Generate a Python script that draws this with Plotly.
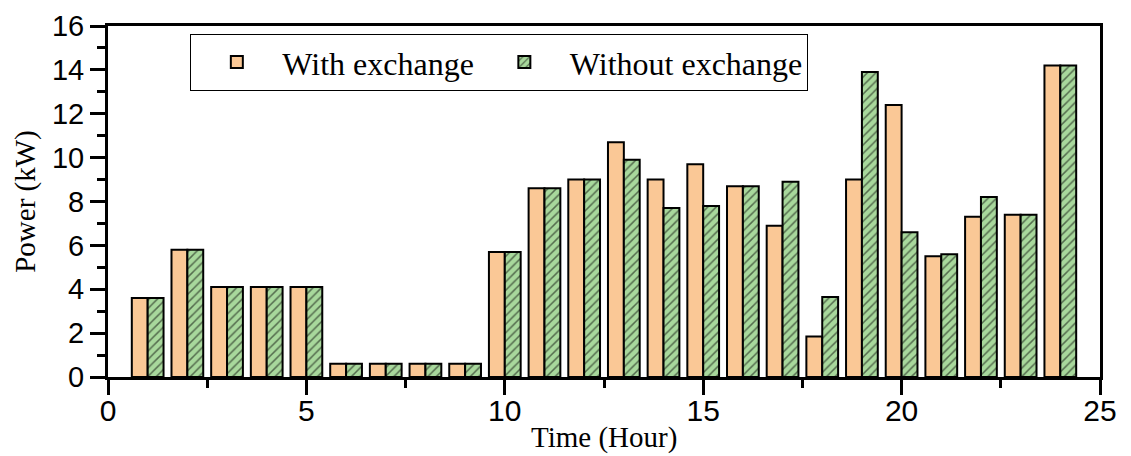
import plotly.graph_objects as go

hours = list(range(1, 25))
with_exchange = [3.6, 5.8, 4.1, 4.1, 4.1, 0.6, 0.6, 0.6, 0.6, 5.7, 8.6, 9.0,
                 10.7, 9.0, 9.7, 8.7, 6.9, 1.85, 9.0, 12.4, 5.5, 7.3, 7.4, 14.2]
without_exchange = [3.6, 5.8, 4.1, 4.1, 4.1, 0.6, 0.6, 0.6, 0.6, 5.7, 8.6, 9.0,
                    9.9, 7.7, 7.8, 8.7, 8.9, 3.65, 13.9, 6.6, 5.6, 8.2, 7.4, 14.2]
x_ticks = [0, 5, 10, 15, 20, 25]
y_ticks = [0, 2, 4, 6, 8, 10, 12, 14, 16]

fig = go.Figure()
fig.add_trace(go.Bar(
    x=hours, y=with_exchange, name="With exchange",
    marker=dict(color="#FAC896", line=dict(color="black", width=2)),
))
fig.add_trace(go.Bar(
    x=hours, y=without_exchange, name="Without exchange",
    marker=dict(color="#A8D89C", line=dict(color="black", width=2),
                pattern=dict(shape="/", fgcolor="black", bgcolor="#A8D89C",
                             size=6, solidity=0.25, fillmode="overlay")),
))

fig.update_layout(
    width=1123, height=448,
    margin=dict(l=100, r=31, t=18, b=79, autoexpand=False),
    plot_bgcolor="white", paper_bgcolor="white",
    barmode="group", bargap=0.2, bargroupgap=0,
    showlegend=True,
    legend=dict(
        orientation="h", x=0.083, y=0.978, xanchor="left", yanchor="top",
        bordercolor="black", borderwidth=1, bgcolor="white",
        font=dict(family="Liberation Serif", size=32, color="black"),
        itemwidth=81, tracegroupgap=0,
    ),
    font=dict(family="Liberation Sans", color="black"),
    annotations=[dict(
        text="Time (Hour)", xref="paper", yref="paper", x=0.5, y=-0.171,
        xanchor="center", yanchor="middle", showarrow=False,
        font=dict(family="Liberation Serif", size=29, color="black"),
    )],
)
fig.update_xaxes(
    range=[0, 25], tickvals=x_ticks, ticks="outside", ticklen=15, tickwidth=3,
    tickcolor="black", showline=True, linewidth=3, linecolor="black", mirror=True,
    showgrid=False, zeroline=False, automargin=False, ticklabelstandoff=-10,
    ticklabeloverflow="allow",
    tickfont=dict(family="Liberation Sans", size=30, color="black"),
    minor=dict(dtick=2.5, ticks="outside", ticklen=8, tickwidth=3, tickcolor="black", showgrid=False),
)
fig.update_yaxes(
    range=[0, 16], tickvals=y_ticks, ticks="outside", ticklen=15, tickwidth=3,
    tickcolor="black", showline=True, linewidth=3, linecolor="black", mirror=True,
    showgrid=False, zeroline=False, automargin=False, ticklabeloverflow="allow",
    tickfont=dict(family="Liberation Sans", size=29, color="black"),
    minor=dict(dtick=1, ticks="outside", ticklen=8, tickwidth=3, tickcolor="black", showgrid=False),
    title=dict(text="Power (kW)", font=dict(family="Liberation Serif", size=29, color="black"), standoff=8),
)

fig.write_html("out.html")
